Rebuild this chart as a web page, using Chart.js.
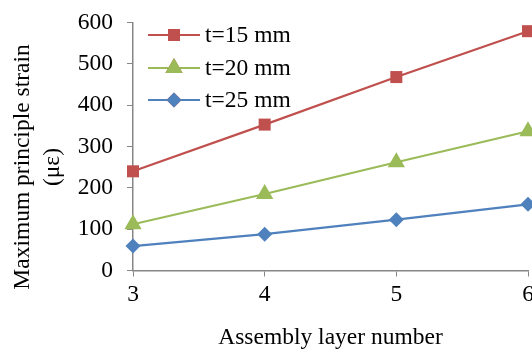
<!DOCTYPE html>
<html>
<head>
<meta charset="utf-8">
<script src="https://cdn.jsdelivr.net/npm/chart.js@4"></script>
<style>
  html, body { margin: 0; padding: 0; background: #fff; overflow: hidden; }
  /* a little wider than the window so the last x label is cut like the original */
  #wrap { width: 538px; height: 349px; }
</style>
</head>
<body>
<div id="wrap"><canvas id="chart"></canvas></div>
<script>
const layers = ['3', '4', '5', '6'];
const strain15 = [240, 353, 468, 579];
const strain20 = [112, 185, 262, 337];
const strain25 = [59, 88, 123, 160];
const seriesNames = ['t=15 mm', 't=20 mm', 't=25 mm'];
const yTitle = ['Maximum principle strain', '(με)'];

const FONT = '"Liberation Serif", "Times New Roman", serif';
const FS = 23.5;
const AXIS = '#868686';

// legend drawn inside the plot, top-left, like the Excel original
const insideLegend = {
    id: 'insideLegend',
    afterDraw(chart) {
        const ctx = chart.ctx;
        const x0 = 148, x1 = 200, tx = 205;
        const rows = [35, 68, 100];
        chart.data.datasets.forEach((ds, i) => {
            const y = rows[i];
            ctx.save();
            ctx.strokeStyle = ds.borderColor;
            ctx.lineWidth = ds.borderWidth;
            ctx.beginPath();
            ctx.moveTo(x0, y);
            ctx.lineTo(x1, y);
            ctx.stroke();
            Chart.helpers.drawPoint(ctx, {
                pointStyle: ds.pointStyle,
                radius: ds.pointRadius,
                borderWidth: 0
            }, (x0 + x1) / 2, y);
            ctx.fillStyle = ds.backgroundColor;
            ctx.fill();
            ctx.fillStyle = '#000';
            ctx.font = FS + 'px ' + FONT;
            ctx.textBaseline = 'middle';
            ctx.fillText(seriesNames[i], tx, y + 1);
            ctx.restore();
        });

        // y title sits a bit lower than the plot centre in the original
        ctx.save();
        ctx.translate(0, 167);
        ctx.rotate(-Math.PI / 2);
        ctx.fillStyle = '#000';
        ctx.font = FS + 'px ' + FONT;
        ctx.textAlign = 'center';
        ctx.textBaseline = 'middle';
        ctx.fillText(yTitle[0], 0, 23);
        ctx.fillText(yTitle[1], 0, 53);
        ctx.restore();
    }
};

new Chart(document.getElementById('chart'), {
    type: 'line',
    data: {
        labels: layers,
        datasets: [
            { label: seriesNames[0], data: strain15, borderColor: '#C0504D', backgroundColor: '#C0504D',
              borderWidth: 2.2, pointStyle: 'rect', pointRadius: 8.5, pointBorderWidth: 0 },
            { label: seriesNames[1], data: strain20, borderColor: '#9BBB59', backgroundColor: '#9BBB59',
              borderWidth: 2.2, pointStyle: 'triangle', pointRadius: 10, pointBorderWidth: 0 },
            { label: seriesNames[2], data: strain25, borderColor: '#4F81BD', backgroundColor: '#4F81BD',
              borderWidth: 2.2, pointStyle: 'rectRot', pointRadius: 7.5, pointBorderWidth: 0 }
        ]
    },
    options: {
        responsive: true,
        maintainAspectRatio: false,
        animation: false,
        clip: false,
        layout: { padding: { top: 22.5, right: 0, left: 0, bottom: 0 } },
        plugins: { legend: { display: false }, tooltip: { enabled: false } },
        scales: {
            x: {
                offset: false,
                afterFit(s) { s.height = 78.5; },
                grid: { drawOnChartArea: false, tickLength: 6, tickColor: AXIS },
                border: { color: AXIS, width: 1.5 },
                ticks: { color: '#000', font: { family: FONT, size: FS }, padding: 4, maxRotation: 0 },
                title: { display: true, text: 'Assembly layer number', color: '#000',
                         font: { family: FONT, size: FS }, padding: { top: 0, bottom: -3 } }
            },
            y: {
                min: 0, max: 600,
                afterFit(s) { s.width = 133; s.paddingTop = 0; s.paddingBottom = 0; },
                ticks: { stepSize: 100, color: '#000', font: { family: FONT, size: FS }, padding: 14 },
                grid: { drawOnChartArea: false, tickLength: 6, tickColor: AXIS },
                border: { color: AXIS, width: 1.5 }
            }
        }
    },
    plugins: [insideLegend]
});
</script>
</body>
</html>
